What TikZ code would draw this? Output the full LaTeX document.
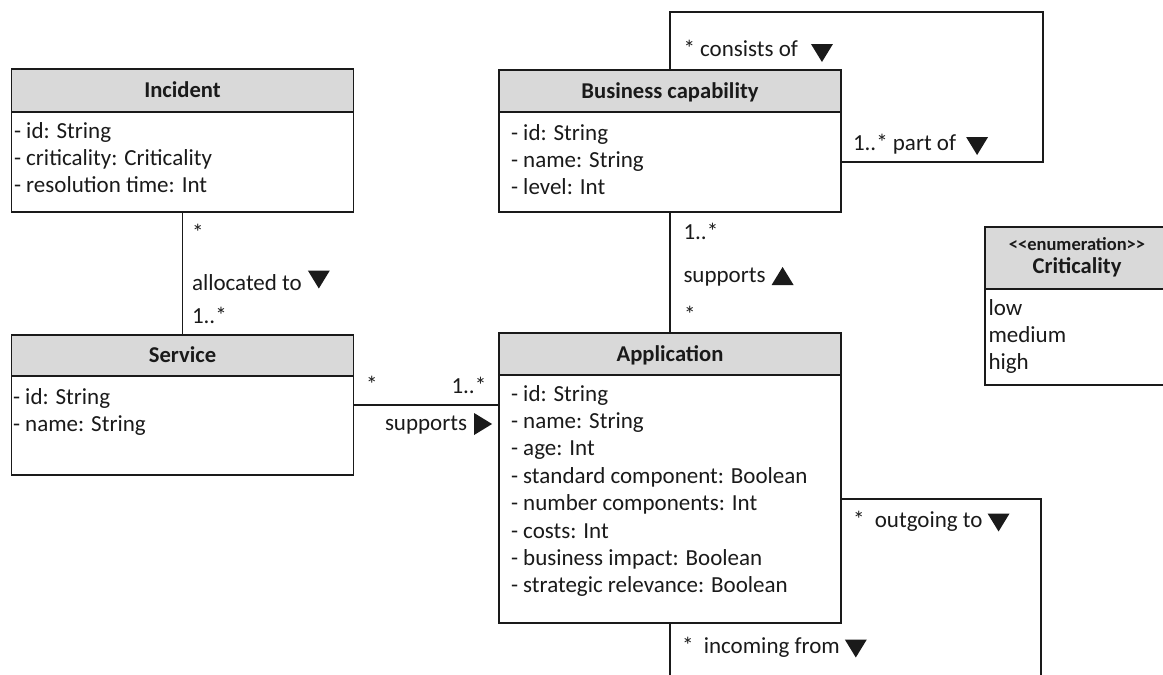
\documentclass[tikz,border=0pt]{standalone}
\usepackage{fontspec}
\setmainfont{Carlito}
\usetikzlibrary{calc}
\newcommand{\lnstrut}{\rule{0pt}{18pt}}
\definecolor{hdrgray}{HTML}{D9D9D9}
\definecolor{ink}{HTML}{1A1A1A}

\begin{document}
\begin{tikzpicture}[x=1pt,y=-1pt,
  every node/.style={font=\fontsize{23}{27.4}\selectfont, inner sep=0pt, outer sep=0pt, text=ink},
  hdr/.style={draw=ink, line width=1.5pt, fill=hdrgray, anchor=north west,
    font=\fontsize{22.6}{27.4}\selectfont\bfseries, text height=14pt, text depth=0pt},
  bodybox/.style={draw=ink, line width=1.5pt, fill=white, anchor=north west},
  attrs/.style={anchor=north west, align=left},
  lbl/.style={anchor=base west},
  assoc/.style={draw=ink, line width=1.5pt},
  tridn/.pic={\fill[ink] (-11,-9) -- (11,-9) -- (0,9) -- cycle;},
  triup/.pic={\fill[ink] (-11,9) -- (11,9) -- (0,-9) -- cycle;},
  trirt/.pic={\fill[ink] (-9,-11) -- (-9,11) -- (9,0) -- cycle;}
]
\clip (0,0) rectangle (1163,675);

% ---- classes ----
\node[hdr, minimum width=342pt, minimum height=43pt] (inch) at (11.5,69) {Incident};
\node[bodybox, minimum width=342pt, minimum height=100pt] (incb) at (inch.south west) {};
\node[attrs] (inca) at ($(incb.north west)+(2.5,8)$)
  {\lnstrut- id: String\\- criticality: Criticality\\- resolution time: Int};

\node[hdr, minimum width=342pt, minimum height=41pt] (svh) at (11.5,335) {Service};
\node[bodybox, minimum width=342pt, minimum height=99pt] (svb) at (svh.south west) {};
\node[attrs] (sva) at ($(svb.north west)+(1.5,10)$)
  {\lnstrut- id: String\\- name: String};

\node[hdr, minimum width=342pt, minimum height=42pt] (bch) at (499,70) {Business capability};
\node[bodybox, minimum width=342pt, minimum height=100pt] (bcb) at (bch.south west) {};
\node[attrs] (bca) at ($(bcb.north west)+(12,10)$)
  {\lnstrut- id: String\\- name: String\\- level: Int};

\node[hdr, minimum width=342pt, minimum height=42pt] (apph) at (499,333) {Application};
\node[bodybox, minimum width=342pt, minimum height=248pt] (appb) at (apph.south west) {};
\node[attrs] (appa) at ($(appb.north west)+(12,8)$)
  {\lnstrut- id: String\\- name: String\\- age: Int\\- standard component: Boolean\\
   - number components: Int\\- costs: Int\\- business impact: Boolean\\
   - strategic relevance: Boolean};

\node[hdr, minimum width=184pt, minimum height=62pt] (crith) at (985,227) {};
\node[anchor=base, font=\fontsize{18.5}{19}\selectfont\bfseries] (critst) at (1077,250)
  {\mbox{<}\mbox{<}enumeration\mbox{>}\mbox{>}};
\node[anchor=base, font=\fontsize{22.6}{27.4}\selectfont\bfseries] (critn) at (1077,273) {Criticality};
\node[bodybox, minimum width=184pt, minimum height=96pt] (critb) at (crith.south west) {};
\node[attrs] (crita) at ($(critb.north west)+(3.5,8)$) {\lnstrut low\\medium\\high};

% ---- associations ----
\draw[assoc] (incb.south) -- (svh.north);
\draw[assoc] (bcb.south) -- (apph.north);
\coordinate (svmid) at ($(svh.north east)!0.5!(svb.south east)$);
\draw[assoc] (svmid) -- (svmid -| appb.west);
\coordinate (bcturn) at (1043,12);
\draw[assoc] (bch.north) |- (bcturn) |- (bcb.east);
\coordinate (appturn) at (1041,700);
\draw[assoc] (appb.east) -| (appturn) -| (appb.south);

% ---- association labels (direction triangles follow their text) ----
\node[lbl] (isA) at (192,240) {*};
\node[lbl] (isN) at (192,290) {allocated to};
\pic at ($(isN.base east)+(17,-10.5)$) {tridn};
\node[lbl] (isB) at (192,323) {1..*};

\node[lbl] (baA) at (683.5,239.5) {1..*};
\node[lbl] (baN) at (683.5,282) {supports};
\pic at ($(baN.base east)+(17,-6)$) {triup};
\node[lbl] (baB) at (684,322) {*};

\node[lbl] (saA) at (366,392) {*};
\node[lbl] (saB) at (451.5,393) {1..*};
\node[lbl] (saN) at (385,430) {supports};
\pic at ($(saN.base east)+(16,-6)$) {trirt};

\node[lbl] (bcA) at (683.5,56) {* consists of};
\pic at ($(bcA.base east)+(24,-3)$) {tridn};
\node[lbl] (bcB) at (853,150) {1..* part of};
\pic at ($(bcB.base east)+(21,-4)$) {tridn};

\node[lbl] (apA) at (853,527.5) {*\ \ outgoing to};
\pic at ($(apA.base east)+(16,-5)$) {tridn};
\node[lbl] (apB) at (682,653) {*\ \ incoming from};
\pic at ($(apB.base east)+(16,-4.5)$) {tridn};
\end{tikzpicture}
\end{document}
